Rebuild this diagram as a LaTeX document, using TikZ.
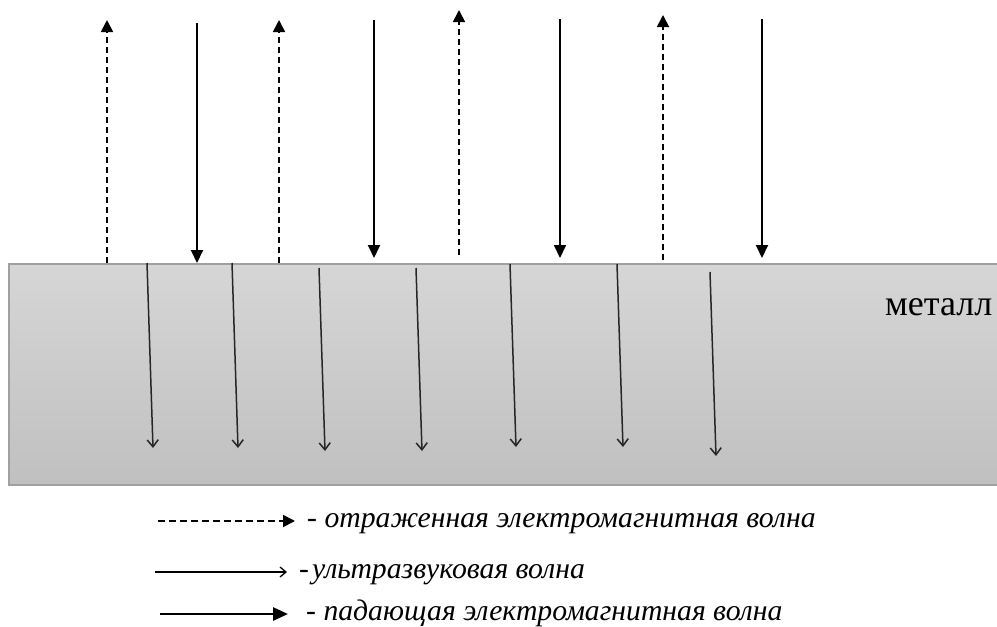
\documentclass[tikz,border=0pt]{standalone}
\usepackage{fontspec}
\setmainfont{Liberation Serif}
\usetikzlibrary{arrows.meta}
\begin{document}
\begin{tikzpicture}[x=1pt,y=-1pt,
 refl/.style={line width=1.7pt, dash pattern=on 6pt off 4pt, -{Triangle[width=12pt,length=12pt]}},
 inc/.style={line width=1.9pt, -{Triangle[width=12pt,length=13pt]}},
 us/.style={line width=1.5pt, draw=black!85, -{Straight Barb[width=11pt,length=7pt]}},
 lgus/.style={line width=1.3pt, -{Straight Barb[width=10pt,length=6pt]}},
 lgref/.style={line width=1.8pt, dash pattern=on 7pt off 4pt, -{Triangle[width=12pt,length=12pt]}},
 lginc/.style={line width=2.8pt, -{Triangle[width=13pt,length=15pt]}},
 lbl/.style={font=\itshape\fontsize{29.7}{32}\selectfont, anchor=base west, inner sep=0pt}]
\useasboundingbox (0,0) rectangle (997,627);
\definecolor{mtop}{HTML}{D6D6D6}
\definecolor{mbot}{HTML}{C0C0C0}
\definecolor{mline}{HTML}{A0A0A0}
% metal plate
\shade[top color=mtop, bottom color=mbot] (9,264) rectangle (997,485);
\draw[mline, line width=1.8pt] (997,264) -- (9,264) -- (9,485) -- (997,485);
\node[font=\fontsize{36}{38}\selectfont, anchor=base west, inner sep=0pt] (metal) at (885,315) {металл};
% reflected (dashed, up)
\foreach \n/\x/\yb/\yt in {r1/107/263/20, r2/279/263/20, r3/459/255/10, r4/663/260/15}{
  \coordinate (\n s) at (\x,\yb); \coordinate (\n e) at (\x,\yt);
  \draw[refl] (\n s) -- (\n e);}
% incident (solid, down)
\foreach \n/\x/\yt/\yb in {i1/197/23/263, i2/374/20/258, i3/560/19/258, i4/762/19/258}{
  \coordinate (\n s) at (\x,\yt); \coordinate (\n e) at (\x,\yb);
  \draw[inc] (\n s) -- (\n e);}
% ultrasound (inside metal)
\foreach \n/\xa/\ya/\xb/\yb in {u1/147/263/153/448, u2/232/263/238/448, u3/319/268/325/451, u4/416/268/422/451, u5/510/264/516/447, u6/617/264/623/447, u7/710/272/716/456}{
  \coordinate (\n s) at (\xa,\ya); \coordinate (\n e) at (\xb,\yb);
  \draw[us] (\n s) -- (\n e);}
% legend
\coordinate (l1a) at (158,521); \coordinate (l1b) at (295,521);
\draw[lgref] (l1a) -- (l1b);
\node[lbl] (t1) at (307,527) {- отраженная электромагнитная волна};
\coordinate (l2a) at (155,572); \coordinate (l2b) at (287,572);
\draw[lgus] (l2a) -- (l2b);
\node[lbl] (t2) at (299,578) {-\kern3pt ультразвуковая волна};
\coordinate (l3a) at (160,614); \coordinate (l3b) at (288,614);
\draw[lginc] (l3a) -- (l3b);
\node[lbl] (t3) at (306,620) {- падающая электромагнитная волна};
\end{tikzpicture}
\end{document}
